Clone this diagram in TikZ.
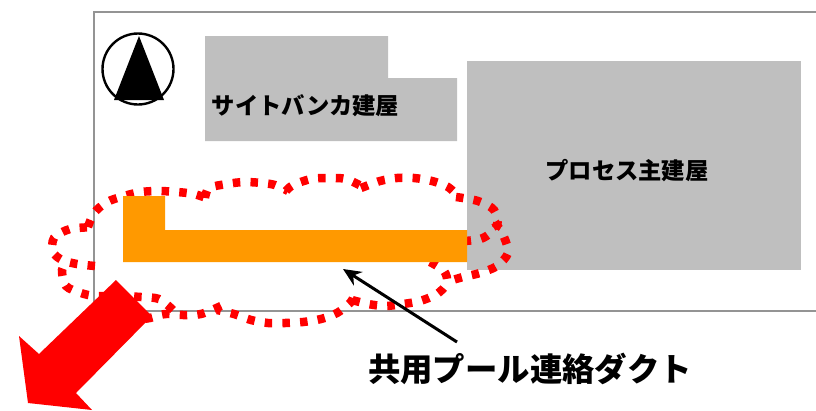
\documentclass[tikz,border=0pt]{standalone}
\usepackage{fontspec}
\newfontfamily\cjk{Noto Sans CJK JP}
\usetikzlibrary{arrows.meta,positioning}
\tikzset{
  building/.style={fill=black!25, draw=none},
  duct/.style={fill=orange1, draw=none},
  lobe/.style={draw=red, line width=8.5pt, dash pattern=on 7.5pt off 10.2pt},
  bldlabel/.style={font=\cjk\bfseries\fontsize{23.3}{25}\selectfont, inner sep=0pt},
}
\definecolor{orange1}{HTML}{FF9900}
\begin{document}
\begin{tikzpicture}[x=1pt, y=-1pt]
  \useasboundingbox (0,0) rectangle (816,410);

  % site boundary
  \draw[color=black!42, line width=1.3pt] (816,12) -- (94,12) -- (94,311) -- (816,311);

  % north mark
  \draw[line width=2.4pt] (138,69) circle (35.5);
  \fill (139,36) -- (164,100) -- (114,100) -- cycle;

  % buildings
  \fill[building] (205,36) -- (388,36) -- (388,78) -- (457,78) -- (457,141) -- (205,141) -- cycle;
  \fill[building] (467,61) rectangle (801,270);
  \node[bldlabel] (bunker) at (305.5,106) {サイトバンカ建屋};
  \node[bldlabel] (process) at (627,171) {プロセス主建屋};

  % cloud
  \draw[lobe] plot[smooth] coordinates {(95,266) (77,264) (62,260) (53,252) (54,238) (70,229) (97,227)};
  \draw[lobe] plot[smooth] coordinates {(88,227) (94,213) (107,202) (124,196) (141,192) (159,191) (177,192) (194,194) (209,199)};
  \draw[lobe] plot[smooth] coordinates {(205,198) (209,188) (227,184) (244,182) (262,183) (275,185) (288,191)};
  \draw[lobe] plot[smooth] coordinates {(286,191) (293,185) (311,179) (329,178) (346,179) (363,187)};
  \draw[lobe] plot[smooth] coordinates {(361,188) (380,181) (397,178) (414,178) (432,181) (448,187) (460,198)};
  \draw[lobe] plot[smooth] coordinates {(456,197) (478,201) (494,210) (497,226) (483,238) (465,241)};
  \draw[lobe] plot[smooth] coordinates {(495,222) (504,237) (508,253) (497,266) (480,273) (463,277) (446,282)};
  \draw[lobe] plot[smooth] coordinates {(430,262) (444,271) (447,283) (437,294) (420,301) (403,304) (385,306) (368,304) (352,300)};
  \draw[lobe] plot[smooth] coordinates {(353,298) (350,303) (337,313) (321,319) (303,322) (285,323) (268,323) (251,320) (234,314) (217,310)};
  \draw[lobe] plot[smooth] coordinates {(221,306) (201,314) (183,315) (165,314) (150,318) (135,320)};
  \draw[lobe] plot[smooth] coordinates {(173,310) (159,299) (141,297) (120,296) (95,296) (81,293) (66,286) (62,270) (68,261)};

  % duct
  \fill[duct] (123,196) -- (165,196) -- (165,230) -- (467,230) -- (467,262) -- (123,262) -- cycle;

  % red arrow
  \fill[red] (116,280) -- (152,316) -- (76,393) -- (92,410) -- (28,403) -- (19,336) -- (39,354) -- cycle;

  % label and leader
  \node[font=\cjk\bfseries\fontsize{32.4}{34}\selectfont, inner sep=0pt] (ductlabel) at (530,369) {共用プール連絡ダクト};
  \coordinate (leaderend) at (457,342);
  \coordinate (leadertip) at (343,269);
  \draw[-{Stealth[length=18pt,width=16pt]}, line width=3pt] (leaderend) -- (leadertip);
\end{tikzpicture}
\end{document}
